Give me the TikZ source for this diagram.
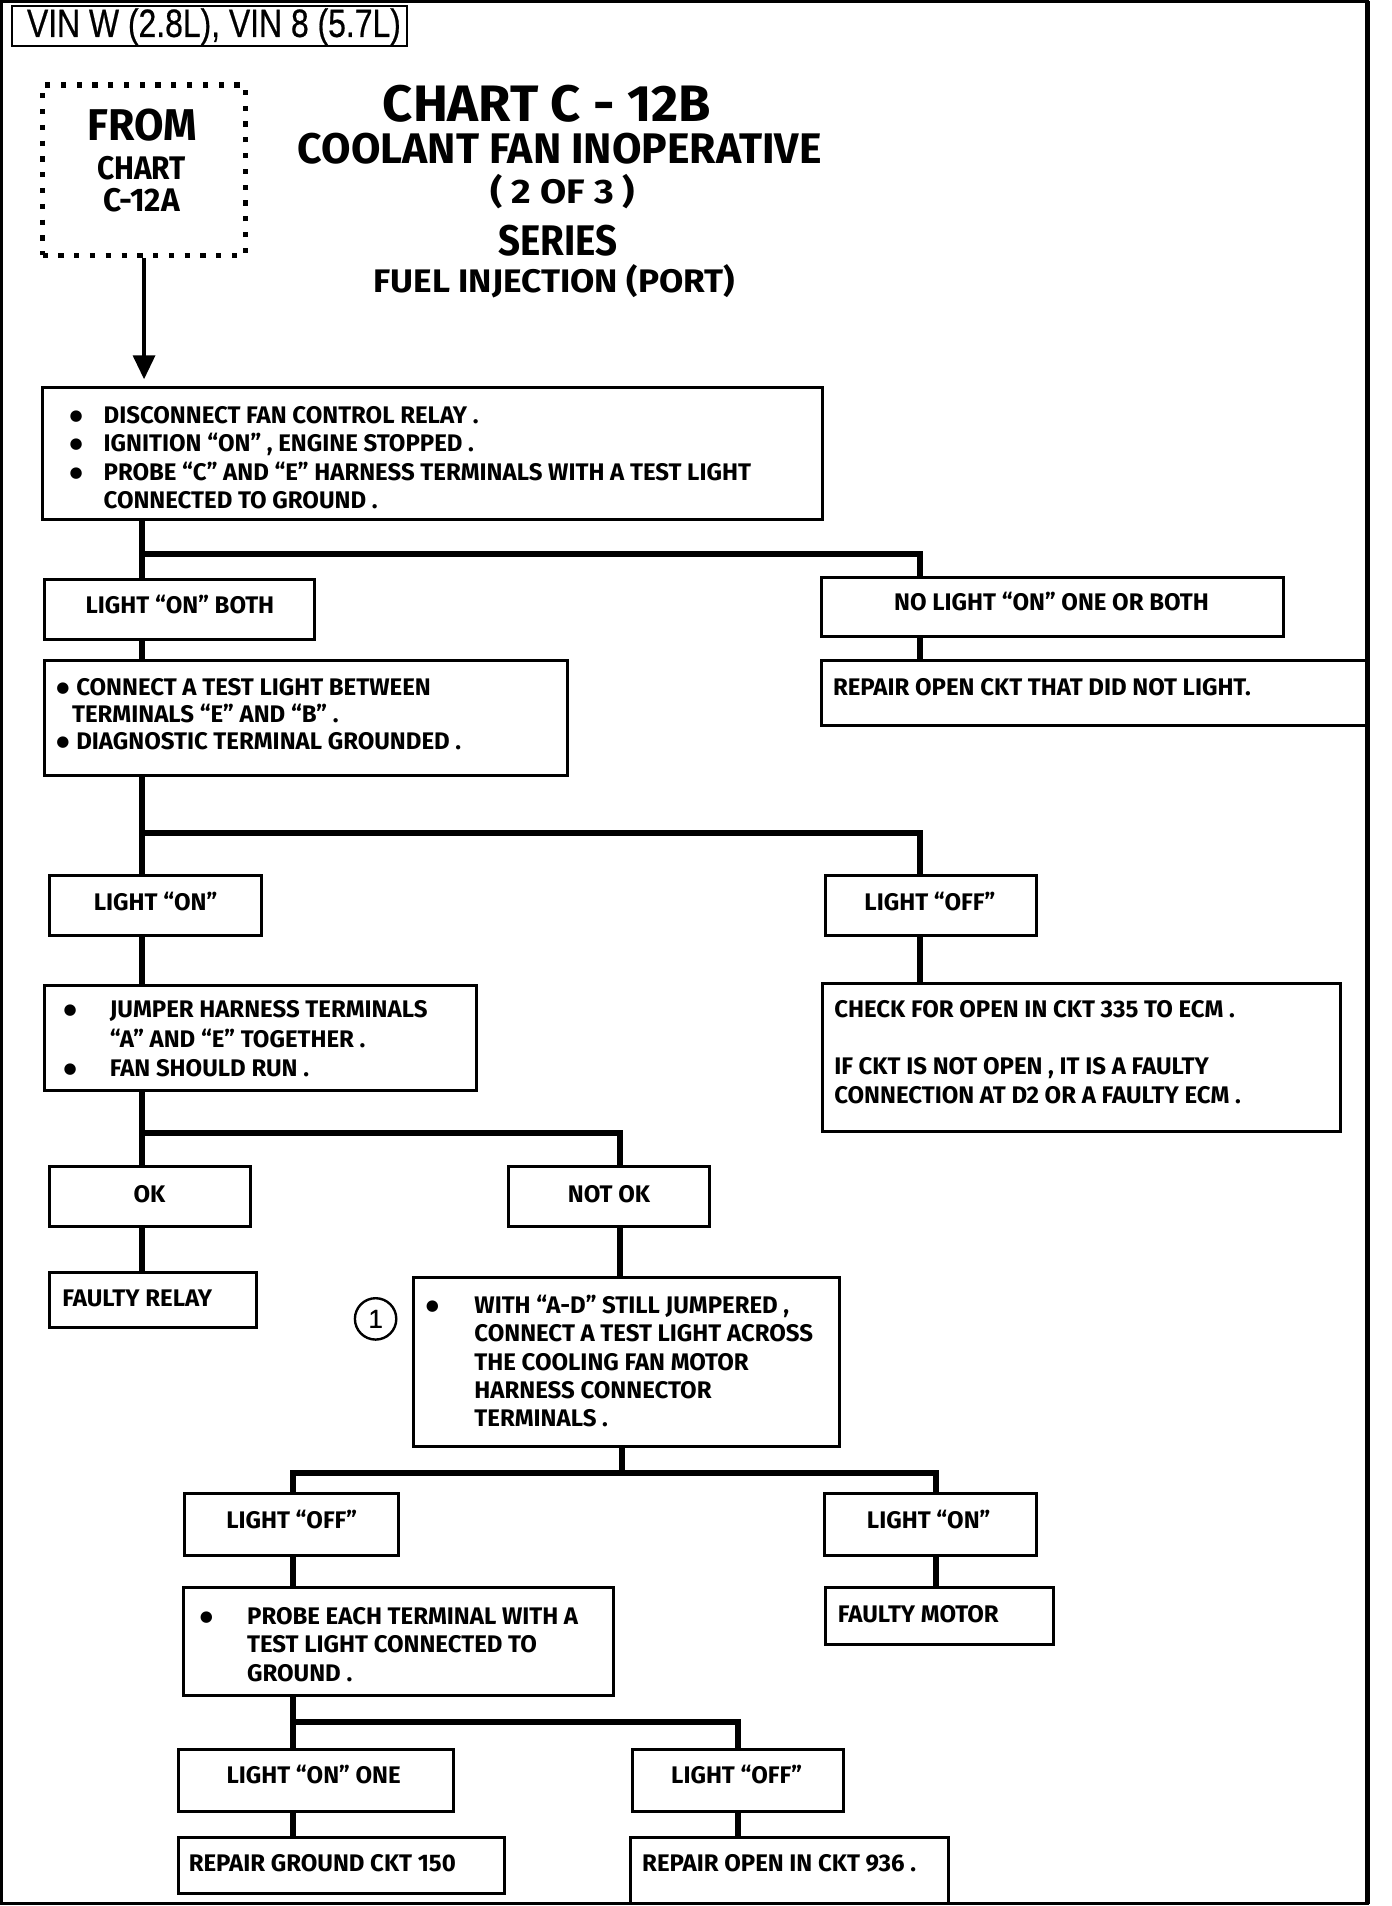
\documentclass[tikz,border=0pt]{standalone}
\usepackage{fontspec}
\usetikzlibrary{fit,arrows.meta}
\newfontfamily\boxf{Fira Sans}
\newfontfamily\titf{Fira Sans}
\newfontfamily\bulf{DejaVu Sans}
\newfontfamily\vinf{Liberation Sans}[FakeBold=0.6]
\newcommand\bu[1]{\makebox[#1][l]{\raisebox{1.6pt}{\bulf\fontsize{7.5}{7.5}\selectfont ●}}}
\begin{document}
\begin{tikzpicture}[x=0.608pt,y=-0.608pt,
  box/.style={draw,line width=1.5pt,inner sep=0pt},
  txt/.style={inner sep=0pt,font=\boxf\bfseries\fontsize{12}{14.2}\selectfont,align=left},
  conn/.style={line width=3pt},
  ttl/.style={inner sep=0pt,font=\titf\bfseries},
  fromb/.style={draw,line width=2.6pt,dash pattern=on 2.6pt off 5.3pt,inner sep=0pt}]
\fill[white] (0,0) rectangle (1145,1568);
\useasboundingbox (0,0) rectangle (1145,1568);
% frame
\draw[line width=1.8pt] (1,1) rectangle (1125,1566);
\draw[line width=2.8pt] (1125,1) -- (1125,1566);
% VIN
\node[box,line width=1.2pt,fit={(10,5)(335,38)}] (vin) {};
\node[inner sep=0pt,font=\vinf] (vint) at (176,22) {\resizebox{187pt}{14.3pt}{VIN W (2.8L), VIN 8 (5.7L)}};
% from box
\node[fromb,fit={(35,70)(202,210)}] (from) {};
\node[ttl] (f1) at (117,103) {\resizebox{54.7pt}{15.8pt}{FROM}};
\node[ttl] (f2) at (116.5,138) {\resizebox{44.4pt}{11.6pt}{CHART}};
\node[ttl] (f3) at (116.5,165) {\resizebox{38.3pt}{11.6pt}{C-12A}};
% titles
\node[ttl] (t1) at (450,85) {\resizebox{164.2pt}{18.2pt}{CHART C - 12B}};
\node[ttl] (t2) at (460.5,122) {\resizebox{262pt}{15.2pt}{COOLANT FAN INOPERATIVE}};
\node[ttl] (t3) at (463,158) {\resizebox{72.4pt}{14.6pt}{( 2 OF 3 )}};
\node[ttl] (t4) at (459,198) {\resizebox{59.6pt}{15.2pt}{SERIES}};
\node[ttl] (t5) at (456,231) {\resizebox{180.6pt}{14pt}{FUEL INJECTION (PORT)}};
% boxes
\node[box,fit={(35,319)(677,427)}] (b1) {};
\node[box,fit={(37,477)(259,526)}] (lob) {};
\node[box,fit={(676,475)(1056,524)}] (nl) {};
\node[box,fit={(676,543)(1125,597)}] (roc) {};
\node[box,fit={(37,543)(467,638)}] (ctl) {};
\node[box,fit={(41,720)(215,770)}] (lon) {};
\node[box,fit={(679,720)(853,770)}] (loff) {};
\node[box,fit={(37,811)(392,897)}] (jmp) {};
\node[box,fit={(677,809)(1103,931)}] (chk) {};
\node[box,fit={(41,960)(206,1009)}] (ok) {};
\node[box,fit={(418,960)(584,1009)}] (nok) {};
\node[box,fit={(41,1047)(211,1092)}] (fr) {};
\node[box,fit={(340,1051)(691,1190)}] (with) {};
\node[box,fit={(152,1229)(328,1280)}] (loff2) {};
\node[box,fit={(678,1229)(853,1280)}] (lon2) {};
\node[box,fit={(151,1306)(505,1395)}] (prb) {};
\node[box,fit={(679,1306)(867,1353)}] (fm) {};
\node[box,fit={(147,1439)(373,1490)}] (lon1) {};
\node[box,fit={(520,1439)(694,1490)}] (loff3) {};
\node[box,fit={(147,1512)(415,1558)}] (rg) {};
\node[box,fit={(519,1512)(780,1566)}] (ro) {};
\node[draw,circle,line width=1.2pt,minimum size=20.7pt,inner sep=0pt,font=\vinf\fontsize{13}{13}\selectfont] (c1) at (309,1085) {1};
% texts
\node[txt,anchor=north west] (b1t) at (57,334) {\bu{17pt}DISCONNECT FAN CONTROL RELAY .\\
\bu{17pt}IGNITION “ON” , ENGINE STOPPED .\\
\bu{17pt}PROBE “C” AND “E” HARNESS TERMINALS WITH A TEST LIGHT\\
\hspace*{17pt}CONNECTED TO GROUND .};
\node[txt] (lobt) at (148,497) {LIGHT “ON” BOTH};
\node[txt] (nlt) at (865,495) {NO LIGHT “ON” ONE OR BOTH};
\node[txt,anchor=west] (roct) at (685,565) {REPAIR OPEN CKT THAT DID NOT LIGHT.};
\node[txt,anchor=north west] (ctlt) at (46,558) {\bu{10pt}CONNECT A TEST LIGHT BETWEEN\\[-0.8pt]
\hspace*{7.9pt}TERMINALS “E” AND “B” .\\[-0.8pt]
\bu{10pt}DIAGNOSTIC TERMINAL GROUNDED .};
\node[txt] (lont) at (128,742) {LIGHT “ON”};
\node[txt] (lofft) at (765,742) {LIGHT “OFF”};
\node[txt,anchor=north west] (jmpt) at (52,823) {\bu{23.1pt}JUMPER HARNESS TERMINALS\\[0.4pt]
\hspace*{23.1pt}“A” AND “E” TOGETHER .\\[0.4pt]
\bu{23.1pt}FAN SHOULD RUN .};
\node[txt,anchor=north west] (chkt) at (686,823) {CHECK FOR OPEN IN CKT 335 TO ECM .\\[14.2pt]
IF CKT IS NOT OPEN , IT IS A FAULTY\\
CONNECTION AT D2 OR A FAULTY ECM .};
\node[txt] (okt) at (123,982) {OK};
\node[txt] (nokt) at (501,982) {NOT OK};
\node[txt,anchor=west] (frt) at (51,1068) {FAULTY RELAY};
\node[txt,anchor=north west] (witht) at (350,1065) {\bu{24.3pt}WITH “A-D” STILL JUMPERED ,\\
\hspace*{24.3pt}CONNECT A TEST LIGHT ACROSS\\
\hspace*{24.3pt}THE COOLING FAN MOTOR\\
\hspace*{24.3pt}HARNESS CONNECTOR\\
\hspace*{24.3pt}TERMINALS .};
\node[txt] (loff2t) at (240,1250) {LIGHT “OFF”};
\node[txt] (lon2t) at (764,1250) {LIGHT “ON”};
\node[txt,anchor=north west] (prbt) at (164,1322) {\bu{23.7pt}PROBE EACH TERMINAL WITH A\\
\hspace*{23.7pt}TEST LIGHT CONNECTED TO\\
\hspace*{23.7pt}GROUND .};
\node[txt,anchor=west] (fmt) at (689,1328) {FAULTY MOTOR};
\node[txt] (lon1t) at (258,1460) {LIGHT “ON” ONE};
\node[txt] (loff3t) at (606,1460) {LIGHT “OFF”};
\node[txt,anchor=west] (rgt) at (155,1533) {REPAIR GROUND CKT 150};
\node[txt,anchor=west] (rot) at (528,1533) {REPAIR OPEN IN CKT 936 .};
% arrow
\draw[line width=1.8pt,-{Triangle[width=11pt,length=12pt]},shorten >=3.5pt] (from.south) -- (from.south |- b1.north);
% connectors
\coordinate (j1) at (117,456); \coordinate (k1) at (757,456);
\draw[conn] (b1.south -| j1) -- (lob.north -| j1);
\draw[conn] (j1) -- (k1) -- (nl.north -| k1);
\draw[conn] (nl.south -| k1) -- (roc.north -| k1);
\draw[conn] (lob.south -| j1) -- (ctl.north -| j1);
\coordinate (j2) at (117,685); \coordinate (k2) at (757,685);
\draw[conn] (ctl.south -| j2) -- (lon.north -| j2);
\draw[conn] (j2) -- (k2) -- (loff.north -| k2);
\draw[conn] (lon.south -| j2) -- (jmp.north -| j2);
\draw[conn] (loff.south -| k2) -- (chk.north -| k2);
\coordinate (j3) at (117,932); \coordinate (k3) at (510,932);
\draw[conn] (jmp.south -| j3) -- (ok.north -| j3);
\draw[conn] (j3) -- (k3) -- (nok.north -| k3);
\draw[conn] (ok.south -| j3) -- (fr.north -| j3);
\draw[conn] (nok.south -| k3) -- (with.north -| k3);
\coordinate (m4) at (512,1212); \coordinate (j4) at (241,1212); \coordinate (k4) at (770,1212);
\draw[conn] (with.south -| m4) -- (m4);
\draw[conn] (loff2.north -| j4) -- (j4) -- (k4) -- (lon2.north -| k4);
\draw[conn] (loff2.south -| j4) -- (prb.north -| j4);
\draw[conn] (lon2.south -| k4) -- (fm.north -| k4);
\coordinate (j5) at (241,1417); \coordinate (k5) at (607,1417);
\draw[conn] (prb.south -| j5) -- (lon1.north -| j5);
\draw[conn] (j5) -- (k5) -- (loff3.north -| k5);
\draw[conn] (lon1.south -| j5) -- (rg.north -| j5);
\draw[conn] (loff3.south -| k5) -- (ro.north -| k5);
\end{tikzpicture}
\end{document}
